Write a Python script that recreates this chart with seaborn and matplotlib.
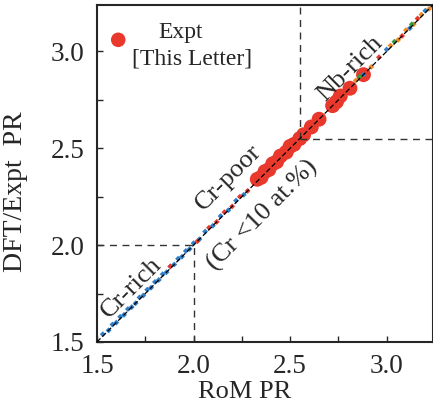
import matplotlib
matplotlib.use('Agg')
import matplotlib.pyplot as plt
import seaborn as sns
import pandas as pd
from matplotlib.ticker import MultipleLocator

# small calculated points (RoM PR, DFT PR) grouped by colour
blue_x = [1.53, 1.56, 1.58, 1.60, 1.62, 1.64, 1.66, 1.68, 1.70, 1.72, 1.74, 1.76, 1.78,
          1.80, 1.82, 1.84, 1.86, 1.88, 1.90, 1.92, 1.94, 1.96, 1.98, 2.00, 2.03, 2.06,
          2.10, 2.14, 2.18, 2.22, 2.26, 2.88, 3.00, 3.12, 3.20]
blue_y = [1.54, 1.56, 1.59, 1.60, 1.63, 1.64, 1.67, 1.68, 1.70, 1.73, 1.74, 1.77, 1.78,
          1.81, 1.82, 1.85, 1.86, 1.89, 1.90, 1.93, 1.94, 1.97, 1.98, 2.01, 2.03, 2.07,
          2.10, 2.15, 2.18, 2.23, 2.26, 2.88, 3.01, 3.12, 3.21]
red_x = [1.88, 2.02, 2.08, 2.12, 2.16, 2.20, 2.24, 2.28, 2.96, 3.08, 3.16]
red_y = [1.89, 2.02, 2.09, 2.12, 2.17, 2.20, 2.25, 2.28, 2.97, 3.08, 3.17]
orange_x = [2.84, 2.92, 3.02, 3.06, 3.10, 3.14, 3.18, 3.22]
orange_y = [2.85, 2.92, 3.03, 3.06, 3.11, 3.14, 3.19, 3.22]
green_x = [2.86, 3.04, 3.13]
green_y = [2.87, 3.05, 3.14]

# experimental points
expt_x = [2.33, 2.35, 2.37, 2.39, 2.41, 2.43, 2.45, 2.48, 2.50, 2.52, 2.55, 2.57, 2.61,
          2.65, 2.72, 2.74, 2.76, 2.81, 2.88]
expt_y = [2.34, 2.35, 2.38, 2.39, 2.42, 2.43, 2.46, 2.48, 2.51, 2.52, 2.55, 2.57, 2.61,
          2.65, 2.72, 2.74, 2.77, 2.81, 2.88]

lim = (1.5, 3.24)

sns.set_style("ticks")
plt.rcParams['font.family'] = ['Liberation Serif', 'DejaVu Serif']

fig, ax = plt.subplots(figsize=(4.33, 4.12), dpi=100)
fig.subplots_adjust(left=0.224, right=1.0, bottom=0.17, top=0.988)

expt = pd.DataFrame({"x": expt_x, "y": expt_y})
sns.scatterplot(data=expt, x="x", y="y", ax=ax, color="#e8392c", s=115,
                edgecolor="none", zorder=2)

for xs, ys, c in [(blue_x, blue_y, "#2f7fc8"), (red_x, red_y, "#e8392c"),
                  (orange_x, orange_y, "#f08a24"), (green_x, green_y, "#3a9a3a")]:
    sns.scatterplot(x=xs, y=ys, ax=ax, color=c, s=9, marker="D",
                    edgecolor="none", zorder=3)

# y = x reference line
ax.plot(lim, lim, ls=(0, (4, 2)), color="black", lw=0.9, zorder=4)

# region dividers
ax.plot([1.5, 2.0], [2.0, 2.0], ls=(0, (5, 4)), color="#333333", lw=1)
ax.plot([2.0, 2.0], [1.5, 2.0], ls=(0, (5, 4)), color="#333333", lw=1)
ax.plot([2.55, 2.55], [2.55, lim[1]], ls=(0, (5, 4)), color="#333333", lw=1)
ax.plot([2.55, lim[1]], [2.55, 2.55], ls=(0, (5, 4)), color="#333333", lw=1)

ax.text(1.68, 1.78, "Cr-rich", rotation=45, fontsize=19, ha="center", va="center")
ax.text(2.18, 2.35, "Cr-poor", rotation=45, fontsize=19, ha="center", va="center")
ax.text(2.356, 2.155, "(Cr <10 at.%)", rotation=45, fontsize=19, ha="center", va="center")
ax.text(2.81, 2.91, "Nb-rich", rotation=45, fontsize=19, ha="center", va="center")

# legend
ax.scatter([1.61], [3.06], color="#e8392c", s=110, edgecolor="none")
ax.text(1.935, 3.10, "Expt", fontsize=17, ha="center", va="center")
ax.text(1.99, 2.96, "[This Letter]", fontsize=17, ha="center", va="center")

ax.set_xlim(lim)
ax.set_ylim(lim)
ax.xaxis.set_major_locator(MultipleLocator(0.5))
ax.yaxis.set_major_locator(MultipleLocator(0.5))
ax.xaxis.set_minor_locator(MultipleLocator(0.25))
ax.yaxis.set_minor_locator(MultipleLocator(0.25))
ax.tick_params(which="both", direction="in", length=4, width=1)
ax.tick_params(labelsize=19.5, pad=9)
for s in ax.spines.values():
    s.set_linewidth(1.5)
ax.set_xlabel("RoM PR", fontsize=19)
ax.set_ylabel("DFT/Expt  PR", fontsize=20)
ax.xaxis.set_label_coords(0.44, -0.115)
ax.yaxis.set_label_coords(-0.205, 0.445)

fig.savefig("out.png", dpi=100)
